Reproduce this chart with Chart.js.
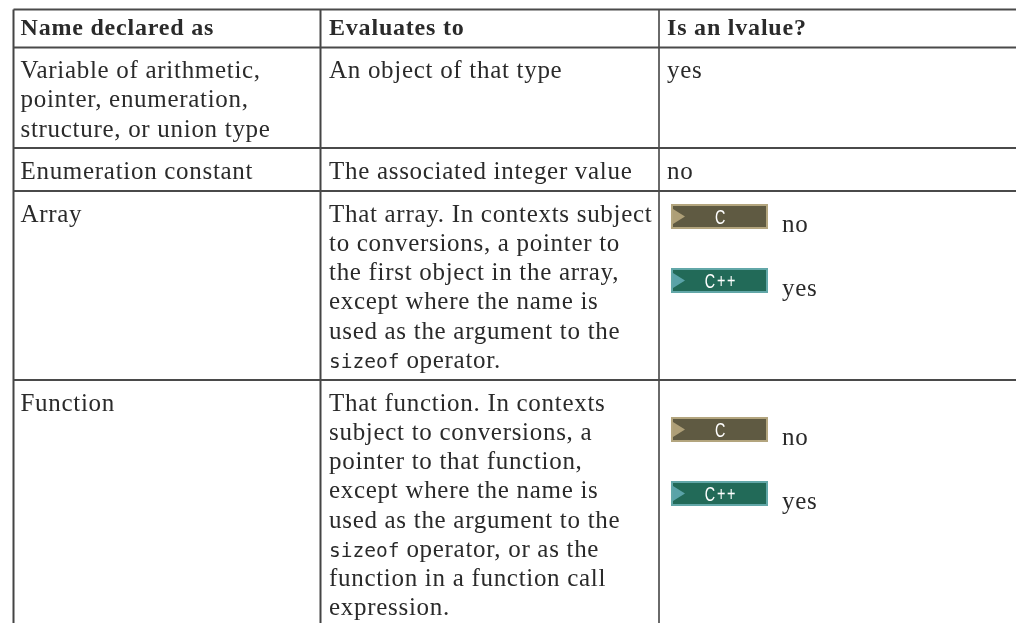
<!DOCTYPE html>
<html>
<head>
<meta charset="utf-8">
<style>
  body { margin: 0; background: #fff; }
  canvas { display: block; }
</style>
<script src="https://cdn.jsdelivr.net/npm/chart.js@4"></script>
</head>
<body>
<canvas id="myChart" width="1016" height="623"></canvas>
<script>
// table content, one array per column, each cell is a list of lines
const headers = ['Name declared as', 'Evaluates to', 'Is an lvalue?']
const names = [
  ['Variable of arithmetic,', 'pointer, enumeration,', 'structure, or union type'],
  ['Enumeration constant'],
  ['Array'],
  ['Function']
]
const evaluates = [
  ['An object of that type'],
  ['The associated integer value'],
  ['That array. In contexts subject', 'to conversions, a pointer to', 'the first object in the array,', 'except where the name is', 'used as the argument to the', '`sizeof` operator.'],
  ['That function. In contexts', 'subject to conversions, a', 'pointer to that function,', 'except where the name is', 'used as the argument to the', '`sizeof` operator, or as the', 'function in a function call', 'expression.']
]
const lvalues = [['yes'], ['no'], [], []]
const badges = [
  { row: 2, lang: 'C', answer: 'no' },
  { row: 2, lang: 'C++', answer: 'yes' },
  { row: 3, lang: 'C', answer: 'no' },
  { row: 3, lang: 'C++', answer: 'yes' }
]

// rule positions
const colEdges = [13.5, 320.5, 659, 1016]
const rowEdges = [9.5, 47.5, 148, 191, 380, 623]
const textInset = [7, 8.5, 8]

const serif = '"Liberation Serif"'
const bodyFont = '25px ' + serif
const headFont = 'bold 24px ' + serif
const monoFont = '19.5px "DejaVu Sans Mono"'
const inkColor = '#2a2a2a'
const lineHeight = 29.25

function rule(x1, y1, x2, y2, color) {
  return {
    data: [{ x: x1, y: y1 }, { x: x2, y: y2 }],
    showLine: true,
    pointRadius: 0,
    borderColor: color,
    borderWidth: 2
  }
}

let rules = []
rowEdges.slice(0, -1).forEach(y => rules.push(rule(colEdges[0], y, colEdges[3], y, '#4a4a4a')))
colEdges.slice(0, -1).forEach((x, i) => rules.push(rule(x, rowEdges[0], x, rowEdges[5], i == 2 ? '#6a6a6a' : '#444444')))

// draws one line, `word` parts come out in the mono font
function drawLine(c, text, x, y) {
  let parts = text.split('`')
  parts.forEach((part, i) => {
    c.font = i % 2 ? monoFont : bodyFont
    c.letterSpacing = i % 2 ? '0px' : '0.7px'
    c.fillText(part, x, y)
    x += c.measureText(part).width
  })
}

const tablePlugin = {
  id: 'tablePlugin',
  afterDraw(chart) {
    const c = chart.ctx
    const sx = chart.scales.x
    const sy = chart.scales.y
    c.save()
    c.textBaseline = 'alphabetic'
    c.textAlign = 'left'
    c.fillStyle = inkColor

    headers.forEach((h, i) => {
      c.font = headFont
      c.letterSpacing = '0.8px'
      c.fillText(h, sx.getPixelForValue(colEdges[i] + textInset[i]), sy.getPixelForValue(rowEdges[0] + 25.5))
    })

    const columns = [names, evaluates, lvalues]
    columns.forEach((col, i) => {
      col.forEach((cell, r) => {
        cell.forEach((line, n) => {
          drawLine(c, line, sx.getPixelForValue(colEdges[i] + textInset[i]), sy.getPixelForValue(rowEdges[r + 1] + 30.5 + n * lineHeight))
        })
      })
    })

    badges.forEach((b, i) => {
      const top = rowEdges[b.row + 1] + (b.row == 2 ? 13 : 37) + (i % 2) * 64
      const x = sx.getPixelForValue(colEdges[2] + 12)
      const y = sy.getPixelForValue(top)
      const isC = b.lang == 'C'
      c.fillStyle = isC ? '#b3a57e' : '#62a7a8'
      c.fillRect(x, y, 97, 25)
      c.fillStyle = isC ? '#5f5a42' : '#226a58'
      c.fillRect(x + 2, y + 2, 93, 21)
      c.fillStyle = isC ? '#ae9f77' : '#5aa3a8'
      c.beginPath()
      c.moveTo(x + 2, y + 5)
      c.lineTo(x + 14, y + 12.5)
      c.lineTo(x + 2, y + 20)
      c.closePath()
      c.fill()

      // narrow badge label, squeezed since no condensed face is installed
      c.save()
      c.translate(x + 50, y + 20)
      c.scale(0.7, 1)
      c.fillStyle = '#ffffff'
      c.font = '20.5px "Liberation Sans"'
      c.letterSpacing = '2.5px'
      c.textAlign = 'center'
      c.fillText(b.lang, 0, 0)
      c.restore()

      c.fillStyle = inkColor
      c.font = bodyFont
      c.letterSpacing = '0.7px'
      c.fillText(b.answer, x + 111, y + 28)
    })
    c.restore()
  }
}

let ctx = document.getElementById('myChart')

let myChart = new Chart(ctx, {
  type: 'scatter',
  data: { datasets: rules },
  options: {
    responsive: false,
    animation: false,
    layout: { padding: 0 },
    plugins: { legend: { display: false }, tooltip: { enabled: false } },
    scales: {
      x: { type: 'linear', display: false, min: 0, max: 1016 },
      y: { type: 'linear', display: false, min: 0, max: 623, reverse: true }
    }
  },
  plugins: [tablePlugin]
})
</script>
</body>
</html>
